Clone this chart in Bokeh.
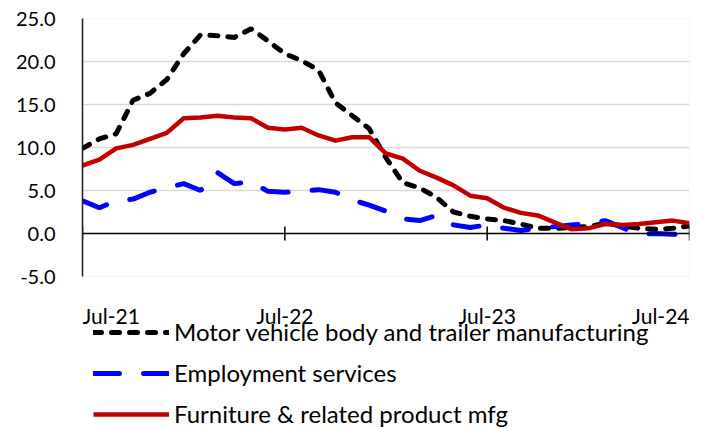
from bokeh.plotting import figure
from bokeh.models import Legend, LegendItem, FixedTicker, Span, BoxAnnotation
from bokeh.core.properties import value
from bokeh.embed import file_html
from bokeh.resources import INLINE

months = list(range(37))
tick_pos = [0, 12, 24, 36]
tick_labels = ["Jul-21", "Jul-22", "Jul-23", "Jul-24"]
tick_align = ["left", "center", "center", "right"]
y_ticks = [-5, 0, 5, 10, 15, 20, 25]

motor = [9.9, 11.0, 11.6, 15.5, 16.3, 17.9,
         20.9, 23.1, 23.0, 22.8, 23.8, 22.4, 20.9, 20.1, 19.0, 15.2, 13.7, 12.2,
         8.8, 5.9, 5.3, 4.2, 2.5, 2.0, 1.7, 1.5, 1.1, 0.6, 0.6, 0.7,
         0.8, 1.2, 0.9, 0.6, 0.5, 0.6, 0.9]
employment = [3.8, 3.0, 3.8, 4.0, 4.8, 5.3,
              5.8, 5.0, 7.1, 5.8, 6.0, 4.9, 4.8, 4.9, 5.1, 4.8, 3.9, 3.3,
              2.6, 1.7, 1.5, 2.1, 1.0, 0.7, 1.0, 0.6, 0.35, 0.6, 0.8, 1.0,
              1.1, 1.5, 0.7, -0.1, 0.0, -0.1, -0.1]
furniture = [7.9, 8.6, 9.9, 10.3, 11.0, 11.7,
             13.4, 13.5, 13.7, 13.5, 13.4, 12.3, 12.1, 12.3, 11.4, 10.8, 11.2, 11.2,
             9.3, 8.7, 7.3, 6.5, 5.6, 4.4, 4.1, 3.0, 2.4, 2.1, 1.3, 0.5,
             0.6, 1.1, 1.0, 1.1, 1.3, 1.5, 1.2]
names = ["Motor vehicle body and trailer manufacturing",
         "Employment services",
         "Furniture & related product mfg"]

FONT = "Lato"

# plot area: 258 px for the -5..25 value span; frame extends below to hold the legend
PLOT_H = 258
FRAME_H = 410
Y_MIN, Y_MAX = -5, 25
ppu = PLOT_H / (Y_MAX - Y_MIN)
y_lo = Y_MAX - FRAME_H / ppu

p = figure(output_backend="svg", toolbar_location=None,
           frame_width=607, frame_height=FRAME_H,
           min_border_left=82, min_border_top=18, min_border_right=37,
           min_border_bottom=0,
           x_range=(0, 36), y_range=(y_lo, Y_MAX))
p.outline_line_color = None
p.background_fill_color = "white"
p.border_fill_color = "white"

# plot-area border
p.add_layout(BoxAnnotation(left=0, right=36, bottom=Y_MIN, top=Y_MAX,
                           fill_alpha=0, line_color="#d9d9d9", line_width=1.5))

# grid
p.xgrid.visible = False
p.ygrid.ticker = FixedTicker(ticks=[5, 10, 15, 20])
p.ygrid.grid_line_color = "#d9d9d9"
p.ygrid.grid_line_width = 1.5

# y axis
p.yaxis.ticker = FixedTicker(ticks=y_ticks)
p.yaxis.bounds = (Y_MIN, Y_MAX)
p.yaxis.major_label_overrides = {v: f"{v:.1f}" for v in y_ticks}
p.yaxis.axis_line_color = "black"
p.yaxis.axis_line_width = 1.5
p.yaxis.major_tick_line_color = None
p.yaxis.minor_tick_line_color = None
p.yaxis.major_label_standoff = 21
p.yaxis.major_label_text_font = FONT
p.yaxis.major_label_text_font_size = "20px"
p.yaxis.major_label_text_color = "black"

# x axis: category labels drawn under the value area
p.xaxis.visible = False
p.text(x=tick_pos, y=[Y_MIN] * len(tick_pos), text=tick_labels,
       text_align=tick_align, text_baseline="alphabetic", y_offset=39,
       text_font=value(FONT), text_font_size="21px", text_color="black")

# zero line with ticks
p.add_layout(Span(location=0, dimension="width", line_color="black", line_width=1.5))
p.segment(x0=tick_pos, x1=tick_pos, y0=[-0.8] * 4, y1=[0.8] * 4,
          line_color="black", line_width=1.5)

r_motor = p.line(months, motor, line_color="black", line_width=5,
                 line_dash="8 10", line_cap="round")
r_emp = p.line(months, employment, line_color="#0000ff", line_width=5,
               line_dash="26 24", line_cap="round")
r_furn = p.line(months, furniture, line_color="#c00000", line_width=4.5)

legend = Legend(items=[LegendItem(label=names[0], renderers=[r_motor]),
                       LegendItem(label=names[1], renderers=[r_emp]),
                       LegendItem(label=names[2], renderers=[r_furn])],
                location=(11, 0), orientation="vertical",
                glyph_width=76, glyph_height=28, label_height=28,
                label_standoff=5, spacing=12, padding=0, margin=0,
                border_line_color=None, background_fill_alpha=0,
                label_text_font=FONT, label_text_font_size="24px",
                label_text_color="black")
p.add_layout(legend, "center")

open("out.html", "w").write(file_html(p, INLINE))
